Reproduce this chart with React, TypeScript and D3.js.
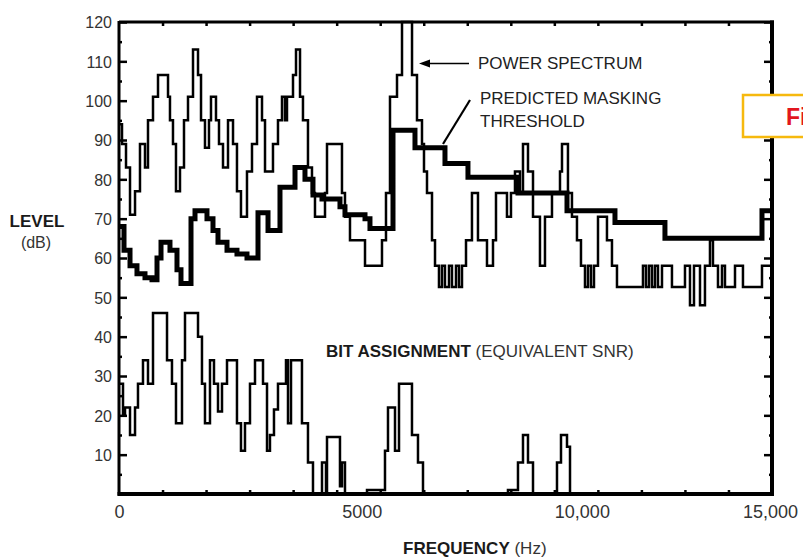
import { useEffect, useRef } from 'react';
import * as d3 from 'd3';

// Power spectrum, stepwise: start frequency (Hz) and level (dB)
const spectrumHz = [0, 69, 161, 253, 368, 482, 597, 666, 781, 896, 1126, 1171, 1240, 1309, 1401, 1493, 1585, 1700, 1815, 1884, 1975, 2067, 2113, 2228, 2297, 2389, 2504, 2619, 2710, 2802, 2940, 3055, 3170, 3285, 3354, 3537, 3652, 3744, 3813, 3859, 3997, 4066, 4158, 4226, 4341, 4433, 4502, 4732, 4778, 5122, 5191, 5306, 5651, 6041, 6133, 6225, 6386, 6501, 6731, 6845, 6960, 7006, 7075, 7190, 7259, 7350, 7419, 7488, 7580, 7649, 7741, 7810, 7879, 7971, 8108, 8246, 8453, 8591, 8660, 8912, 9004, 9096, 9211, 9280, 9395, 9510, 9670, 9785, 9946, 10130, 10176, 10313, 10405, 10520, 10612, 10704, 10773, 10842, 10911, 11003, 11209, 11324, 11439, 12036, 12105, 12174, 12243, 12312, 12381, 12473, 12702, 13001, 13116, 13208, 13346, 13460, 13575, 13644, 13759, 13851, 13920, 14150, 14333, 14770];
const spectrumDb = [94, 89, 83, 71, 77, 89, 83, 95, 101, 106.5, 101, 95, 89, 77, 83, 95, 101, 113, 106.5, 95, 88, 95, 101, 95, 89, 83, 95, 89, 77, 70.5, 82, 89, 101, 95, 82, 89, 95, 101, 95, 101, 106.5, 113, 101, 95, 83, 76.5, 70.5, 76.5, 89, 76.5, 70.5, 64.5, 58, 64.5, 76.5, 101, 106.5, 120, 106.5, 95, 89, 82, 76.5, 64.5, 58, 52.6, 58, 52.6, 58, 52.6, 58, 52.6, 58, 64.5, 76.5, 64.5, 58, 64.5, 76.5, 70.5, 76.5, 82, 76.5, 89, 82, 70.5, 58, 70.5, 76.5, 82, 89, 76.5, 70.5, 64.5, 58, 52.6, 58, 52.6, 58, 70.5, 64.5, 58, 52.6, 58, 52.6, 58, 52.6, 58, 52.6, 58, 52.6, 58, 48, 58, 48, 58, 64.5, 58, 52.6, 58, 52.6, 58, 52.6, 58];

// Predicted masking threshold
const thresholdHz = [0, 115, 253, 413, 597, 758, 873, 965, 1171, 1332, 1424, 1654, 1746, 2021, 2159, 2274, 2481, 2710, 2940, 3193, 3423, 3698, 4043, 4272, 4456, 4663, 5076, 5191, 5651, 5765, 6294, 6799, 7488, 8016, 9165, 10291, 11393, 12541, 14770];
const thresholdDb = [68, 62, 58, 56, 55, 54.5, 60, 64, 62, 57, 53.5, 70, 72, 70, 67, 64, 62, 61, 60, 71.5, 67, 78, 83, 80, 76, 75, 73, 71, 70, 67.5, 92.5, 88, 84, 80.5, 76.5, 72, 69, 65, 72];

// Bit assignment (equivalent SNR)
const bitsHz = [0, 92, 138, 253, 368, 436, 551, 666, 781, 1103, 1217, 1309, 1447, 1516, 1815, 1906, 1975, 2090, 2182, 2274, 2366, 2481, 2710, 2802, 2894, 3009, 3124, 3308, 3400, 3468, 3560, 3652, 3836, 3882, 3951, 4203, 4341, 4456, 4663, 4755, 4778, 5076, 5122, 5191, 5697, 6110, 6179, 6340, 6432, 6730, 6868, 6983, 8935, 9165, 9280, 9395, 9510, 10061, 10153, 10291, 10360];
const bitsDb = [28, 20, 22, 15, 22, 28, 34, 28, 46, 34, 28, 18, 34, 46, 40, 28, 18, 34, 28, 21, 28, 34, 18, 11, 18, 28, 34, 28, 11, 15, 21.5, 28, 34, 18, 34, 18, 8, 0, 8, 0, 14.5, 2, 8, 0, 1, 11, 22, 11, 28, 15, 8, 0, 1, 8, 15, 8, 0, 8, 15, 12, 0];

const levelTicks = [10, 20, 30, 40, 50, 60, 70, 80, 90, 100, 110, 120];
const levelMinorTicks = [5, 15, 25, 35, 45, 55, 65, 75, 85, 95, 105, 115];
const freqMinorTicks = [1000, 2000, 3000, 4000, 5000, 6000, 7000, 8000, 9000, 10000, 11000, 12000, 13000, 14000];
const freqTicks = [0, 5000, 10000, 15000];
const freqTickLabels = ['0', '5000', '10,000', '15,000'];

const W = 803;
const H = 557;
const FONT = "'Liberation Sans', Arial, sans-serif";

const App = () => {
    const ref = useRef(null);

    useEffect(() => {
        const svg = d3.select(ref.current);
        svg.selectAll('*').remove();

        const x = d3.scaleLinear().domain([0, 15000]).range([119, 772]);
        const y = d3.scaleLinear().domain([0, 120]).range([494, 22]);

        const steps = (hz, db) => {
            const pts = hz.map((h, i) => [h, db[i]]);
            pts.push([15000, db[db.length - 1]]);
            return pts;
        };
        const line = d3.line().x(d => x(d[0])).y(d => y(d[1])).curve(d3.curveStepAfter);

        // axes: ticks point inward, frame drawn separately
        const axisStyle = g => {
            g.select('.domain').remove();
            g.selectAll('line').attr('stroke', '#000').attr('stroke-width', 2.5);
            g.selectAll('text').attr('fill', '#333').style('font-family', FONT);
        };

        svg.append('g').attr('transform', 'translate(119,0)')
            .call(d3.axisLeft(y).tickValues(levelTicks).tickSize(-8).tickPadding(7))
            .call(axisStyle)
            .call(g => g.selectAll('text').style('font-size', '16px').attr('dy', '0.36em'));
        svg.append('g').attr('transform', 'translate(119,0)')
            .call(d3.axisLeft(y).tickValues(levelMinorTicks).tickSize(-3).tickFormat(() => ''))
            .call(axisStyle);
        svg.append('g').attr('transform', 'translate(772,0)')
            .call(d3.axisRight(y).tickValues(levelTicks).tickSize(-8).tickFormat(() => ''))
            .call(axisStyle);
        svg.append('g').attr('transform', 'translate(772,0)')
            .call(d3.axisRight(y).tickValues(levelMinorTicks).tickSize(-3).tickFormat(() => ''))
            .call(axisStyle);
        svg.append('g').attr('transform', 'translate(0,22)')
            .call(d3.axisTop(x).tickValues(freqMinorTicks).tickSize(-4).tickFormat(() => ''))
            .call(axisStyle);
        svg.append('g').attr('transform', 'translate(0,494)')
            .call(d3.axisBottom(x).tickValues(freqMinorTicks).tickSize(-4).tickFormat(() => ''))
            .call(axisStyle);
        svg.append('g').attr('transform', 'translate(0,494)')
            .call(d3.axisBottom(x).tickValues(freqTicks).tickSize(0).tickPadding(11)
                .tickFormat((d, i) => freqTickLabels[i]))
            .call(axisStyle)
            .call(g => g.selectAll('text')
                .style('font-size', '18px')
                .attr('text-anchor', (d, i) => (i === 1 || i === 2) ? 'start' : 'middle')
                .attr('dx', (d, i) => i === 1 ? 5 : (i === 3 ? -2 : 0)));

        // frame
        const frame = svg.append('g').attr('stroke', '#000').attr('fill', 'none');
        frame.append('line').attr('x1', x(0)).attr('x2', x(0)).attr('y1', y(120) - 1).attr('y2', y(0) + 1.5).attr('stroke-width', 3);
        frame.append('line').attr('x1', x(0)).attr('x2', x(15000) + 2).attr('y1', y(120)).attr('y2', y(120)).attr('stroke-width', 3);
        frame.append('line').attr('x1', x(15000)).attr('x2', x(15000)).attr('y1', y(120) - 1.5).attr('y2', y(0) + 2).attr('stroke-width', 4);
        frame.append('line').attr('x1', x(0) - 1.5).attr('x2', x(15000) + 2).attr('y1', y(0)).attr('y2', y(0)).attr('stroke-width', 4);

        // series
        svg.append('path').attr('d', line(steps(thresholdHz, thresholdDb)))
            .attr('fill', 'none').attr('stroke', '#000').attr('stroke-width', 5).attr('stroke-linejoin', 'miter');
        svg.append('path').attr('d', line(steps(spectrumHz, spectrumDb)))
            .attr('fill', 'none').attr('stroke', '#000').attr('stroke-width', 2.5).attr('stroke-linejoin', 'miter');
        svg.append('path').attr('d', line(steps(bitsHz, bitsDb)))
            .attr('fill', 'none').attr('stroke', '#000').attr('stroke-width', 2.5).attr('stroke-linejoin', 'miter');

        // annotations
        const ann = svg.append('g').style('font-family', FONT).attr('fill', '#222');
        ann.append('text').attr('x', 478).attr('y', 69).style('font-size', '17px').text('POWER SPECTRUM');
        ann.append('line').attr('x1', 469).attr('x2', 428).attr('y1', 63.5).attr('y2', 63.5)
            .attr('stroke', '#000').attr('stroke-width', 1.6);
        ann.append('path').attr('d', 'M419,63.5 L430,59.5 L430,67.5 Z').attr('fill', '#000');
        ann.append('text').attr('x', 480).attr('y', 104).style('font-size', '17px').text('PREDICTED MASKING');
        ann.append('text').attr('x', 480).attr('y', 127).style('font-size', '17px').text('THRESHOLD');
        ann.append('line').attr('x1', 470).attr('y1', 100).attr('x2', 443).attr('y2', 144)
            .attr('stroke', '#000').attr('stroke-width', 2.2);

        const bit = ann.append('text').attr('x', 326).attr('y', 357).style('font-size', '17px');
        bit.append('tspan').attr('font-weight', 'bold').attr('fill', '#1a1a1a').text('BIT ASSIGNMENT');
        bit.append('tspan').attr('fill', '#333').text(' (EQUIVALENT SNR)');

        ann.append('text').attr('x', 37).attr('y', 227).attr('text-anchor', 'middle')
            .attr('font-weight', 'bold').attr('fill', '#1a1a1a').style('font-size', '17px').text('LEVEL');
        ann.append('text').attr('x', 36).attr('y', 248).attr('text-anchor', 'middle')
            .attr('fill', '#333').style('font-size', '16px').text('(dB)');

        const fq = ann.append('text').attr('x', 403).attr('y', 554).style('font-size', '17px');
        fq.append('tspan').attr('font-weight', 'bold').attr('fill', '#1a1a1a').text('FREQUENCY');
        fq.append('tspan').attr('fill', '#333').text(' (Hz)');

        // figure tag box at the right edge (cut off in the source as well)
        svg.append('rect').attr('x', 743).attr('y', 95).attr('width', 80).attr('height', 42)
            .attr('fill', '#fff').attr('stroke', '#f6b90e').attr('stroke-width', 2.5);
        svg.append('text').attr('x', 786).attr('y', 125).style('font-family', FONT)
            .style('font-size', '23px').attr('font-weight', 'bold').attr('fill', '#e2161e').text('Fi');
    }, []);

    return (
        <svg ref={ref} width={W} height={H}
            style={{ position: 'absolute', left: 0, top: 0, background: '#fff' }} />
    );
};

export default App;
